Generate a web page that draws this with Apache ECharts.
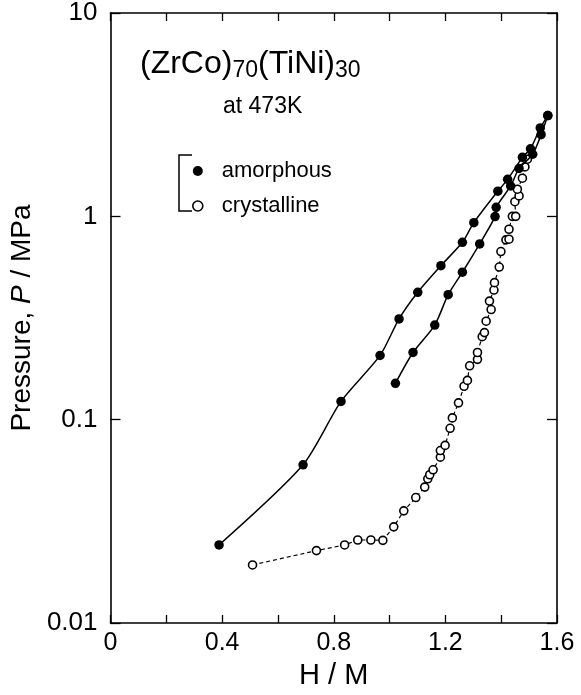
<!DOCTYPE html>
<html>
<head>
<meta charset="utf-8">
<script src="https://cdn.jsdelivr.net/npm/echarts@6/dist/echarts.min.js"></script>
<style>
html,body{margin:0;padding:0;background:#fff;}
#chart{width:581px;height:695px;}
</style>
</head>
<body>
<div id="chart"></div>
<script>
// ---- data ----
var xTickLabels = ['0', '0.4', '0.8', '1.2', '1.6'];
var yTickLabels = ['0.01', '0.1', '1', '10'];

// amorphous, upper branch (H/M, P in MPa)
var amorUpperH = [0.389, 0.690, 0.826, 0.966, 1.034, 1.101, 1.184, 1.261, 1.302, 1.388, 1.423, 1.476, 1.505, 1.540, 1.567];
var amorUpperP = [0.0242, 0.0600, 0.123, 0.207, 0.313, 0.423, 0.572, 0.745, 0.931, 1.33, 1.52, 1.95, 2.15, 2.72, 3.13];

// amorphous, lower branch
var amorLowerH = [1.021, 1.084, 1.162, 1.210, 1.261, 1.323, 1.378, 1.382, 1.434, 1.464, 1.513, 1.543, 1.567];
var amorLowerP = [0.151, 0.214, 0.292, 0.412, 0.531, 0.732, 0.997, 1.107, 1.41, 1.72, 2.02, 2.52, 3.13];

// crystalline
var crystH = [0.509, 0.738, 0.839, 0.886, 0.933, 0.976, 1.015, 1.051, 1.094, 1.126, 1.137, 1.144, 1.156, 1.182, 1.182, 1.199, 1.217, 1.225, 1.247, 1.267, 1.279, 1.287, 1.315, 1.315, 1.332, 1.340, 1.346, 1.364, 1.358, 1.374, 1.376, 1.393, 1.399, 1.417, 1.428, 1.428, 1.440, 1.452, 1.449, 1.464, 1.458, 1.476, 1.485, 1.494];
var crystP = [0.0193, 0.0227, 0.0242, 0.0256, 0.0256, 0.0255, 0.0297, 0.0356, 0.0414, 0.0466, 0.0512, 0.0536, 0.0567, 0.0654, 0.0705, 0.0747, 0.0907, 0.102, 0.121, 0.146, 0.156, 0.184, 0.198, 0.214, 0.256, 0.268, 0.305, 0.348, 0.383, 0.434, 0.472, 0.563, 0.671, 0.766, 0.772, 0.864, 1.00, 1.00, 1.18, 1.26, 1.36, 1.54, 1.75, 1.91];

function zip(a, b) { return a.map(function (v, i) { return [v, b[i]]; }); }

var FONT = '"Liberation Sans", Arial, Helvetica, sans-serif';
var chart = echarts.init(document.getElementById('chart'), null, {renderer: 'canvas'});

var axisLineStyle = {color: '#000', width: 1.6};
var tickStyle = {color: '#000', width: 1.3};
var option = {
  backgroundColor: '#fff',
  animation: false,
  textStyle: {fontFamily: FONT, color: '#000'},
  title: [{
    text: '{m|(ZrCo)}{s|70}{m|(TiNi)}{s|30}',
    left: 135, top: 41,
    textStyle: {
      fontWeight: 'normal',
      rich: {
        m: {fontSize: 32, lineHeight: 36, fontWeight: 'normal', fontFamily: FONT, color: '#000'},
        s: {fontSize: 23, lineHeight: 8, verticalAlign: 'bottom', fontWeight: 'normal', fontFamily: FONT, color: '#000'}
      }
    }
  }, {
    text: 'at 473K',
    left: 218, top: 90,
    textStyle: {fontSize: 23, fontWeight: 'normal', fontFamily: FONT, color: '#000'}
  }],
  legend: {
    orient: 'vertical',
    left: 187, top: 154,
    itemWidth: 10, itemHeight: 10,
    itemGap: 11,
    textStyle: {fontSize: 22, lineHeight: 24, fontFamily: FONT, color: '#000', padding: [0, 0, 0, 14]},
    data: [
      {name: 'amorphous', icon: 'circle', itemStyle: {color: '#000', borderWidth: 0}},
      {name: 'crystalline', icon: 'circle', itemStyle: {color: '#fff', borderColor: '#000', borderWidth: 1.6}}
    ]
  },
  graphic: [{
    type: 'polyline',
    shape: {points: [[192, 155], [179, 155], [179, 211], [192, 211]]},
    style: {stroke: '#000', lineWidth: 1.5, fill: null}
  }],
  grid: {left: 103, right: 24, top: 12, bottom: 70},
  xAxis: [{
    type: 'value', min: 0, max: 1.6, interval: 0.2,
    name: 'H / M', nameLocation: 'middle', nameGap: 38,
    nameTextStyle: {fontSize: 29, fontFamily: FONT, color: '#000'},
    axisLine: {show: true, onZero: false, lineStyle: axisLineStyle},
    axisTick: {show: true, inside: true, length: 8, lineStyle: tickStyle},
    splitLine: {show: false},
    axisLabel: {
      fontSize: 25, color: '#000', margin: 8, fontFamily: FONT,
      formatter: function (v) {
        var s = (Math.round(v * 10) / 10).toString();
        return xTickLabels.indexOf(s) >= 0 ? s : '';
      }
    }
  }, {
    type: 'value', min: 0, max: 1.6, interval: 0.2, position: 'top',
    axisLine: {show: true, onZero: false, lineStyle: axisLineStyle},
    axisTick: {show: true, inside: true, length: 8, lineStyle: tickStyle},
    axisLabel: {show: false}, splitLine: {show: false}
  }],
  yAxis: [{
    type: 'log', logBase: 10, min: 0.01, max: 10,
    name: 'Pressure, {i|P} / MPa', nameLocation: 'middle', nameGap: 65, nameRotate: 90,
    nameTextStyle: {
      fontSize: 28, fontFamily: FONT, color: '#000',
      rich: {i: {fontSize: 28, fontStyle: 'italic', fontFamily: FONT, color: '#000'}}
    },
    axisLine: {show: true, onZero: false, lineStyle: axisLineStyle},
    axisTick: {show: true, inside: true, length: 10, lineStyle: tickStyle},
    minorTick: {show: false},
    splitLine: {show: false},
    axisLabel: {
      fontSize: 26, color: '#000', margin: 13, fontFamily: FONT,
      formatter: function (v) {
        var s = String(+v.toPrecision(3));
        return yTickLabels.indexOf(s) >= 0 ? s : '';
      }
    }
  }, {
    type: 'log', logBase: 10, min: 0.01, max: 10, position: 'right',
    axisLine: {show: true, onZero: false, lineStyle: axisLineStyle},
    axisTick: {show: true, inside: true, length: 10, lineStyle: tickStyle},
    axisLabel: {show: false}, splitLine: {show: false}
  }],
  series: [{
    name: 'amorphous', type: 'line', smooth: 0.25,
    data: zip(amorUpperH, amorUpperP),
    symbol: 'circle', symbolSize: 9.5,
    itemStyle: {color: '#000'},
    lineStyle: {color: '#000', width: 1.5},
    z: 3
  }, {
    name: 'amorphous', type: 'line', smooth: 0.25,
    data: zip(amorLowerH, amorLowerP),
    symbol: 'circle', symbolSize: 9.5,
    itemStyle: {color: '#000'},
    lineStyle: {color: '#000', width: 1.5},
    z: 3
  }, {
    name: 'crystalline', type: 'line', smooth: false,
    data: zip(crystH, crystP),
    symbol: 'circle', symbolSize: 8,
    showAllSymbol: true,
    itemStyle: {color: '#fff', borderColor: '#000', borderWidth: 1.6},
    lineStyle: {color: '#000', width: 1.2, type: [4, 3]},
    z: 2
  }]
};
chart.setOption(option);
</script>
</body>
</html>
